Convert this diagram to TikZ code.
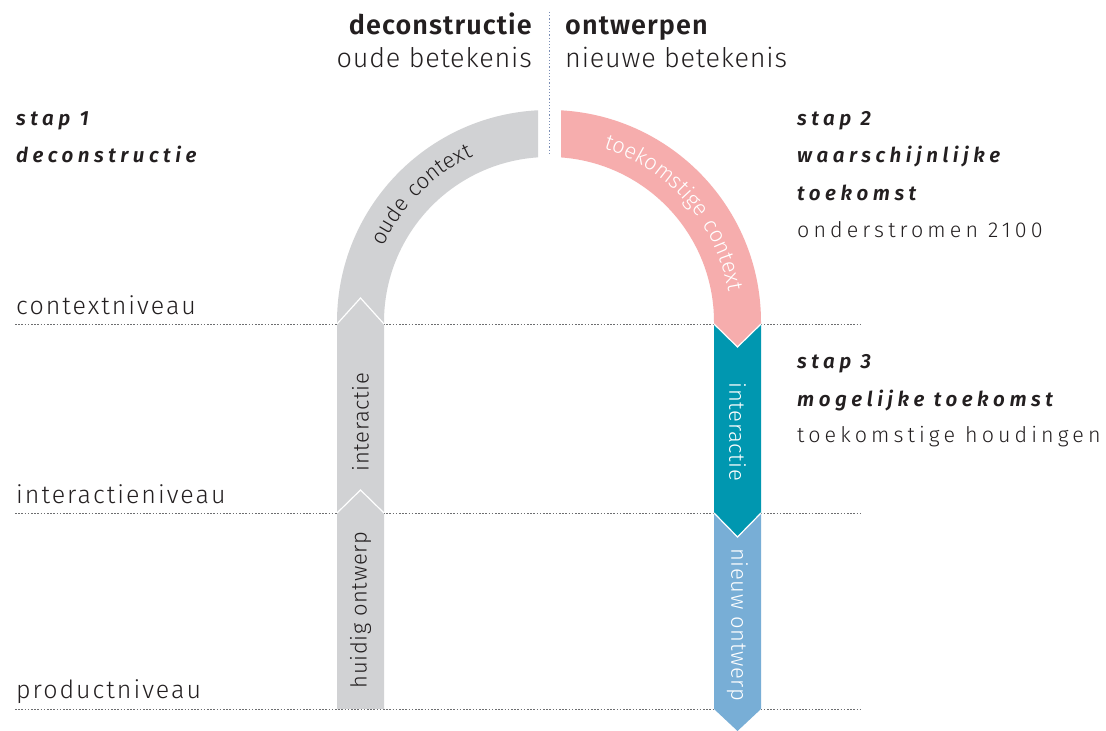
\documentclass[tikz,border=0pt]{standalone}
\usepackage{fontspec}
\setmainfont{Fira Sans Light}[BoldFont={Fira Sans SemiBold},ItalicFont={Fira Sans Light Italic},BoldItalicFont={Fira Sans SemiBold Italic}]
\newfontfamily\stapfont{Fira Sans SemiBold Italic}[LetterSpace=22]
\newfontfamily\spacedfont{Fira Sans Light}[LetterSpace=19]
\newfontfamily\levelfont{Fira Sans Light}[LetterSpace=8]
\newfontfamily\colfont{Fira Sans Light}[LetterSpace=3]
\newfontfamily\headfont{Fira Sans Light}[LetterSpace=3]
\newfontfamily\headboldfont{Fira Sans SemiBold}[LetterSpace=4]
\newfontfamily\arcfont{Fira Sans Light}[LetterSpace=6]
\usetikzlibrary{decorations.text}
\definecolor{ink}{HTML}{231F20}
\definecolor{colgray}{HTML}{D1D2D4}
\definecolor{colpink}{HTML}{F6ADAD}
\definecolor{colteal}{HTML}{0097B0}
\definecolor{colblue}{HTML}{78AED6}
\definecolor{dotgray}{HTML}{6D6E70}
\definecolor{dotblue}{HTML}{7A8DB5}
\begin{document}
\begin{tikzpicture}[x=1pt,y=1pt,
  txt/.style={inner sep=0pt,text=ink},
  head/.style={txt,font=\fontsize{27}{32}\headfont},
  headbold/.style={txt,font=\fontsize{27}{32}\headboldfont},
  level/.style={txt,font=\fontsize{25}{30}\levelfont,anchor=base west},
  stapstyle/.style={txt,font=\fontsize{20.5}{24}\stapfont,anchor=base west},
  substyle/.style={txt,font=\fontsize{21.5}{26}\spacedfont,anchor=base west},
  collabel/.style={inner sep=0pt,font=\fontsize{22}{26}\colfont},
  levelline/.style={dotgray,line width=0.9pt,dash pattern=on 1.6pt off 1.6pt},
  sep/.style={white,line width=1.2pt}]
\fill[white] (0,0) rectangle (1106,731);
\useasboundingbox (0,0) rectangle (1106,731);

% level lines
\coordinate (c1) at (15,407); \coordinate (c2) at (862,407);
\coordinate (i1) at (15,218); \coordinate (i2) at (862,218);
\coordinate (p1) at (15,22);  \coordinate (p2) at (862,22);
\draw[levelline] (c1) -- (c2);
\draw[levelline] (i1) -- (i2);
\draw[levelline] (p1) -- (p2);

% vertical divider
\coordinate (v1) at (549,719); \coordinate (v2) at (549,576);
\draw[dotblue,line width=0.9pt,dash pattern=on 1.2pt off 2pt] (v1) -- (v2);

% left gray shape
\begin{scope}
\clip (0,0) rectangle (538,731);
\fill[colgray] (337,22) -- (337,409) arc[start angle=180,end angle=90,radius=212]
  -- (549,574) arc[start angle=90,end angle=180,radius=165] -- (384,22) -- cycle;
\end{scope}
\draw[sep] (337,407) -- (360.5,433) -- (384,407);
\draw[sep] (337,218) -- (360.5,241) -- (384,218);

% right pink arc
\begin{scope}
\clip (561,0) rectangle (1106,731);
\fill[colpink] (549,621) arc[start angle=90,end angle=0,radius=212]
  -- (761,407) -- (737.5,384) -- (714,407) -- (714,409)
  arc[start angle=0,end angle=90,radius=165] -- cycle;
\end{scope}
% teal
\fill[colteal] (714,407) -- (737.5,384) -- (761,407) -- (761,218) -- (737.5,194) -- (714,218) -- cycle;
% blue
\fill[colblue] (714,218) -- (737.5,194) -- (761,218) -- (761,22) -- (737.5,0) -- (714,22) -- cycle;
\draw[sep] (714,407) -- (737.5,384) -- (761,407);
\draw[sep] (714,218) -- (737.5,194) -- (761,218);

% arc labels
\path[decorate,decoration={text along path,text align=center,
  text={|\fontsize{22}{26}\arcfont\color{ink}|oude context}}]
  (367,409) arc[start angle=180,end angle=90,radius=182];
\path[decorate,decoration={text along path,text align=center,
  text={|\fontsize{22}{26}\arcfont\color{white}|toekomstige context}}]
  (561.7,590.6) arc[start angle=86,end angle=-4,radius=182];

% column labels
\node[collabel,text=ink,rotate=90] (li) at (360.5,309) {interactie};
\node[collabel,text=ink,rotate=90] (lh) at (360.5,121) {huidig ontwerp};
\node[collabel,text=white,rotate=-90] (ri) at (737.5,299) {interactie};
\node[collabel,text=white,rotate=-90] (rn) at (737.5,106) {nieuw ontwerp};

% header
\node[headbold,anchor=base east] (hd) at (532,696) {deconstructie};
\node[head,anchor=base east] (ho) at (532,663) {oude betekenis};
\node[headbold,anchor=base west] (hw) at (565,696) {ontwerpen};
\node[head,anchor=base west] (hn) at (565,663) {nieuwe betekenis};

% levels
\node[level] (lc) at (16,416) {contextniveau};
\node[level] (lin) at (16,227) {interactieniveau};
\node[level] (lp) at (16,32) {productniveau};

% steps
\node[stapstyle] (s1a) at (16,605) {stap 1};
\node[stapstyle] (s1b) at (16,568) {deconstructie};
\node[stapstyle] (s2a) at (797,605) {stap 2};
\node[stapstyle] (s2b) at (797,568) {waarschijnlijke};
\node[stapstyle] (s2c) at (797,530) {toekomst};
\node[substyle] (s2d) at (797,493) {onderstromen 2100};
\node[stapstyle] (s3a) at (797,362) {stap 3};
\node[stapstyle] (s3b) at (797,324) {mogelijke toekomst};
\node[substyle] (s3c) at (797,288) {toekomstige houdingen};
\end{tikzpicture}
\end{document}
